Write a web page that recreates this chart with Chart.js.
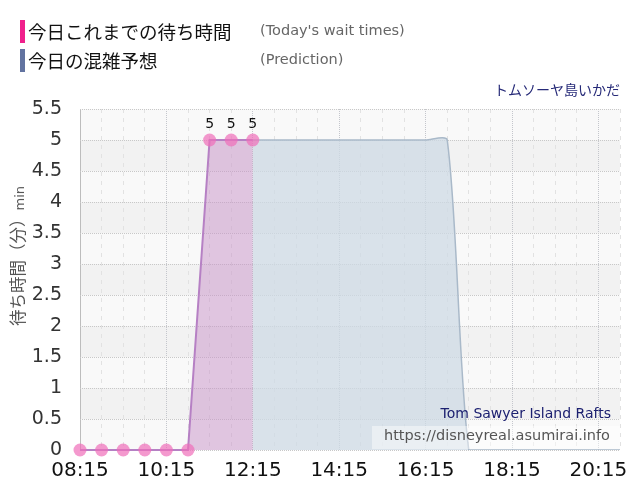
<!DOCTYPE html>
<html>
<head>
<meta charset="utf-8">
<script src="https://cdn.jsdelivr.net/npm/chart.js@4/dist/chart.umd.min.js"></script>
<style>
  body { margin: 0; background: #fff; }
  #wrap { position: relative; width: 640px; height: 500px; overflow: hidden; }
  #chart { position: absolute; left: 0; top: 0; }
  .abs { position: absolute; white-space: nowrap; }
  .bar { position: absolute; width: 5px; height: 23px; }
  .jp { font-family: "Noto Sans CJK JP", sans-serif; }
  .en { font-family: "DejaVu Sans", Verdana, sans-serif; }
</style>
</head>
<body>
<div id="wrap">
  <canvas id="chart" width="640" height="500"></canvas>

  <div class="bar" style="left:20px; top:20px; background:#f0208c;"></div>
  <div class="abs jp" style="left:28px; top:18px; font-size:18.5px; color:#111;">今日これまでの待ち時間</div>
  <div class="abs en" style="left:260px; top:22px; font-size:14.5px; color:#666;">(Today's wait times)</div>

  <div class="bar" style="left:20px; top:49px; background:#6273a0;"></div>
  <div class="abs jp" style="left:28px; top:47px; font-size:18.5px; color:#111;">今日の混雑予想</div>
  <div class="abs en" style="left:260px; top:51px; font-size:14.5px; color:#666;">(Prediction)</div>

  <div class="abs jp" style="right:20px; top:79px; font-size:14px; color:#262a78;">トムソーヤ島いかだ</div>

  <div class="abs" style="left:17px; top:256px; transform: translate(-50%, -50%) rotate(-90deg); color:#555;">
    <span class="jp" style="font-size:16.5px;">待ち時間（分）</span><span class="en" style="font-size:13px;">min</span>
  </div>

  <div class="abs en" style="right:29px; top:405px; font-size:14px; color:#1c2070;">Tom Sawyer Island Rafts</div>
  <div class="abs en" style="left:372px; top:426px; width:248px; height:23px; background:rgba(255,255,255,0.45);"></div>
  <div class="abs en" style="right:30px; top:427px; font-size:14.5px; color:#555;">https://disneyreal.asumirai.info</div>
</div>

<script>
// Today's wait times (30 min steps)
const todayTimes = ['08:15', '08:45', '09:15', '09:45', '10:15', '10:45', '11:15', '11:45', '12:15'];
const todayWaits = [0, 0, 0, 0, 0, 0, 5, 5, 5];

// Prediction
const predTimes = ['12:15', '12:45', '13:15', '13:45', '14:15', '14:45', '15:15', '15:45', '16:15', '16:45',
                   '17:15', '17:45', '18:15', '18:45', '19:15', '19:45', '20:15', '20:45'];
const predWaits = [5, 5, 5, 5, 5, 5, 5, 5, 5, 5, 0, 0, 0, 0, 0, 0, 0, 0];

const xTickLabels = ['08:15', '10:15', '12:15', '14:15', '16:15', '18:15', '20:15'];
const yTicks = [0, 0.5, 1, 1.5, 2, 2.5, 3, 3.5, 4, 4.5, 5, 5.5];

const toMin = t => {
  const [h, m] = t.split(':').map(Number);
  return h * 60 + m;
};
const fmt = v => {
  const h = Math.floor(v / 60), m = v % 60;
  return String(h).padStart(2, '0') + ':' + String(m).padStart(2, '0');
};

const xMin = toMin('08:15');
const xMax = toMin('20:45');

Chart.defaults.font.family = "'DejaVu Sans', Verdana, sans-serif";

// alternating background bands
const bands = {
  id: 'bands',
  beforeDraw(chart) {
    const { ctx, chartArea: a, scales: { y } } = chart;
    ctx.save();
    for (let i = 0; i < yTicks.length - 1; i++) {
      const top = y.getPixelForValue(yTicks[i + 1]);
      const bot = y.getPixelForValue(yTicks[i]);
      ctx.fillStyle = i % 2 === 0 ? '#f9f9f9' : '#f2f2f2';
      ctx.fillRect(a.left, top, a.right - a.left, bot - top);
    }
    ctx.restore();
  }
};

// value labels above today's non-zero points
const valueLabels = {
  id: 'valueLabels',
  afterDatasetsDraw(chart) {
    const { ctx } = chart;
    const meta = chart.getDatasetMeta(0);
    ctx.save();
    ctx.font = "14px 'DejaVu Sans', Verdana, sans-serif";
    ctx.fillStyle = '#111';
    ctx.textAlign = 'center';
    ctx.textBaseline = 'bottom';
    meta.data.forEach((pt, i) => {
      if (todayWaits[i] > 0) ctx.fillText(String(todayWaits[i]), pt.x, pt.y - 9);
    });
    ctx.restore();
  }
};

const ctx = document.getElementById('chart').getContext('2d');
const chart = new Chart(ctx, {
  type: 'line',
  data: {
    datasets: [{
      label: '今日これまでの待ち時間',
      data: todayTimes.map((t, i) => ({ x: toMin(t), y: todayWaits[i] })),
      borderColor: '#b680c4',
      borderWidth: 2,
      backgroundColor: 'rgba(200,145,200,0.5)',
      fill: 'origin',
      tension: 0,
      pointRadius: 6.5,
      pointBorderWidth: 0,
      pointBackgroundColor: 'rgba(240,110,185,0.7)',
      clip: false
    }, {
      label: '今日の混雑予想',
      data: predTimes.map((t, i) => ({ x: toMin(t), y: predWaits[i] })),
      borderColor: '#a9b9c9',
      borderWidth: 1.5,
      backgroundColor: 'rgba(205,218,228,0.75)',
      fill: 'origin',
      tension: 0.25,
      pointRadius: 0
    }]
  },
  options: {
    responsive: false,
    animation: false,
    devicePixelRatio: 1,
    layout: { padding: { top: 109, right: 20, left: 0, bottom: 0 } },
    plugins: {
      legend: { display: false },
      tooltip: { enabled: false }
    },
    scales: {
      x: {
        type: 'linear',
        min: xMin,
        max: xMax,
        afterBuildTicks: scale => {
          const ticks = [];
          for (let v = xMin; v <= xMax; v += 30) ticks.push({ value: v });
          scale.ticks = ticks;
        },
        afterFit: scale => { scale.height = 50; },
        ticks: {
          autoSkip: false,
          maxRotation: 0,
          padding: 9,
          color: '#111',
          font: { size: 20 },
          callback: v => xTickLabels.includes(fmt(v)) ? fmt(v) : ''
        },
        grid: {
          drawTicks: false,
          lineWidth: 1,
          color: c => {
            if (c.index === 0) return '#bdbdbd';
            return (c.tick.value - xMin) % 120 === 0 ? '#c4c6cc' : '#e2e2e2';
          }
        },
        border: {
          display: false,
          dash: c => {
            if (c.index === 0) return [];
            return (c.tick.value - xMin) % 120 === 0 ? [1, 1] : [4, 5];
          }
        }
      },
      y: {
        min: 0,
        max: 5.5,
        afterBuildTicks: scale => { scale.ticks = yTicks.map(v => ({ value: v })); },
        afterFit: scale => { scale.width = 80; },
        ticks: {
          padding: 18,
          color: '#333',
          font: { size: 19 },
          callback: v => String(v)
        },
        grid: {
          drawTicks: false,
          color: '#c8c8c8',
          lineWidth: 1
        },
        border: { display: false, dash: [1, 1] }
      }
    }
  },
  plugins: [bands, valueLabels]
});
</script>
</body>
</html>
